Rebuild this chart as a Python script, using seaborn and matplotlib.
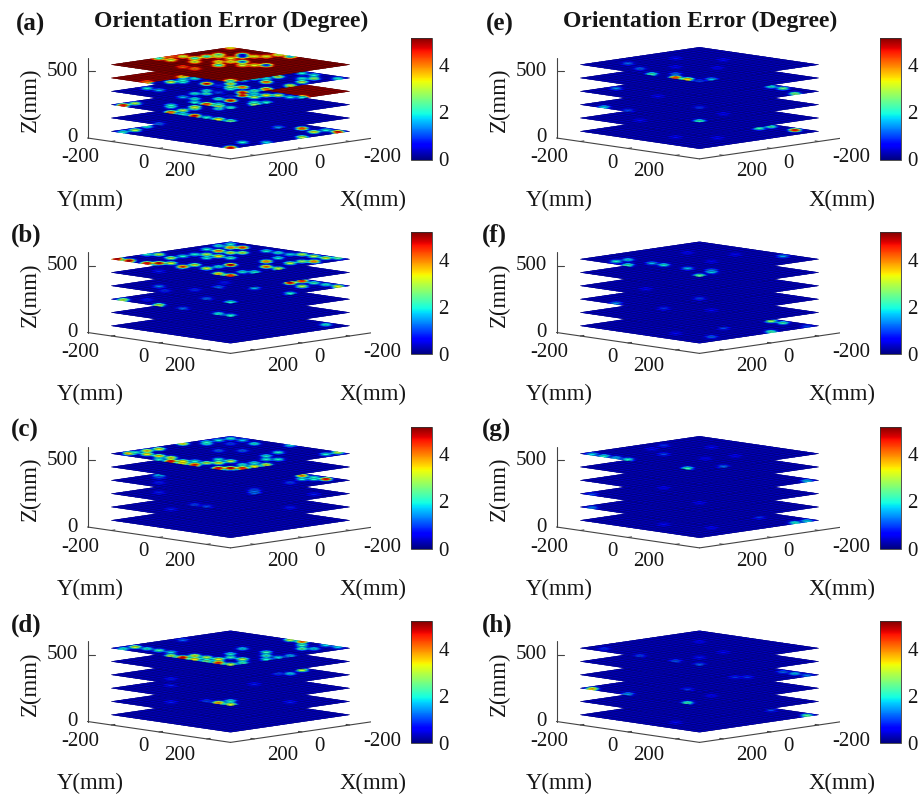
import numpy as np
import matplotlib
matplotlib.use("Agg")
import matplotlib.pyplot as plt
from matplotlib.cm import ScalarMappable
from matplotlib.colors import Normalize
from mpl_toolkits.mplot3d import proj3d
import seaborn as sns

sns.set_theme(style="white", font="Liberation Serif")
plt.rcParams["font.family"] = ["Liberation Serif", "DejaVu Serif"]

# measurement heights (mm), grid edges (mm), base error level per sheet
sheet_z = [50, 150, 250, 350, 450, 550]
grid_edges = [-250 + 25 * k for k in range(21)]
base_err = [0.3, 0.3, 0.3, 0.3, 0.3, 0.3]
top_base_a = 5.17
panel_ids = ["(a)", "(b)", "(c)", "(d)", "(e)", "(f)", "(g)", "(h)"]
z_ticks = ["0", "500"]
xy_ticks = ["-200", "0", "200"]
cbar_ticks = [0, 2, 4]
cbar_max = 5.17

# (sheet, x index, y index, error in degrees)
spots_a = [
 (5,0,0,3.3),(5,3,5,.6),(5,3,7,3.2),(5,2,8,3.2),(5,0,8,3),(5,0,10,1.6),(5,5,3,2),(5,6,4,3),(5,7,3,2),
 (5,9,3,2),(5,9,1,3),(5,10,0,4.2),(5,12,0,2),(5,12,2,3),(5,11,5,3),(5,9,7,3.2),(5,6,6,3.2),(5,8,8,3.2),
 (5,9,11,3),(5,8,12,3.2),(5,7,13,.8),(5,11,9,2),(5,15,9,4),(5,15,7,4.2),(5,7,9,1.2),(5,4,6,.6),(5,19,19,2),
 (4,13,5,3.2),(4,17,7,3.2),(4,19,5,4),(4,13,7,2),(4,15,11,4.8),(4,13,13,3.2),(4,9,15,4.2),(4,5,13,3),
 (4,1,13,2),(4,1,15,2),(4,4,16,2),(4,3,17,2.8),(4,1,19,2),(4,6,18,3),(4,9,19,3.2),(4,10,12,2),
 (4,8,12,2.2),(4,7,13,2),(4,15,7,2),(4,15,13,.9),(4,16,8,2),
 (4,15,15,3.2),(4,14,16,4.2),(4,16,16,2),(4,15,19,2.2),(4,17,19,4.8),(4,13,19,4.2),(4,19,15,2),(4,19,17,1),
 (3,8,16,3.2),(3,9,15,3.4),(3,11,15,3),
 (3,11,13,4.8),(3,15,15,4.8),(3,15,13,2.2),(3,14,8,2),(3,17,9,1.6),(3,17,11,2),(3,15,3,1.6),(3,15,1,2),
 (3,7,19,2),(3,8,18,2),(3,9,13,2),(3,13,9,2.2),(3,12,12,1),
 (3,19,19,2),(3,19,17,3.2),(3,18,16,2),(3,19,15,4.4),(3,19,13,2),(3,15,19,3),(3,14,18,2),(3,13,19,2),
 (2,19,1,4.8),(2,17,1,3),(2,17,9,3),(2,19,9,4.2),
 (2,15,9,2.2),(2,16,6,2),(2,19,11,2),(2,13,11,2),(2,14,8,3.2),(2,15,5,2),
 (2,19,13,4.8),(2,19,15,2),(2,19,17,3.3),(2,19,19,2.4),
 (1,19,7,1.2),(1,11,19,1.4),
 (0,19,1,2),(0,17,1,3),(0,14,0,2),(0,19,19,4.8),(0,15,17,2),(0,13,19,1.8),(0,2,14,4.4),(0,3,17,3.3),
 (0,1,17,2),(0,1,19,4.8),(0,7,19,3)]
# (sheet, x from, x to, y from, y to, error) for solid areas
areas_a = [(5,0,19,0,19,top_base_a),(4,12,19,0,5,5.1),(3,0,6,12,19,5.1)]

spots_b = [
 (5,1,1,2),(5,3,1,2),(5,3,3,4),(5,2,4,4.5),(5,6,2,2),(5,6,4,4),(5,6,6,3.2),(5,5,7,3),(5,2,8,2),(5,2,10,2),
 (5,2,12,1.8),(5,1,13,3),(5,1,15,3),(5,1,17,3.2),(5,0,18,2.4),(5,19,0,5),(5,19,2,5),(5,14,0,2),(5,13,1,3),
 (5,14,4,3),(5,12,4,2),(5,10,4,2),(5,9,5,3),(5,9,7,3.5),(5,9,9,2.2),(5,11,7,2),(5,19,5,4.8),(5,18,6,5),
 (5,17,7,3.2),(5,18,10,4.5),(5,16,10,3.2),(5,17,13,3.2),(5,19,17,3.5),(5,13,13,5),(5,19,19,4.5),(5,15,13,2),
 (5,16,18,2),(5,15,19,2),(5,11,17,4.2),(5,11,19,3),(5,8,14,4),(5,7,17,3),(5,5,17,2.8),(5,4,18,4),(5,5,13,2),
 (4,19,17,1.2),(4,1,3,.8),(4,15,3,.8),(4,16,15,.8),
 (3,3,13,4.8),(3,1,13,4.6),(3,4,16,3),(3,1,15,2.2),(3,1,19,3.3),(3,1,17,2),(3,9,19,2),(3,9,13,1.6),(3,16,4,1.3),
 (3,19,19,2),(3,19,15,1.2),(3,15,9,.9),(3,18,7,.9),
 (2,19,1,3),(2,19,7,3),(2,19,19,2),(2,19,17,2),(2,19,11,1.2),(2,17,3,.8),
 (0,1,17,2)]
areas_b = []

spots_c = [
 (5,18,1,4),(5,17,1,2),(5,15,1,3.5),(5,13,1,3.3),(5,8,0,3.3),(5,5,1,2),(5,6,2,2),(5,3,1,1.9),(5,1,1,2),(5,1,3,1.7),
 (5,2,6,2),(5,4,4,1),(5,0,10,1.8),(5,17,3,3.5),(5,17,5,3.5),(5,17,7,3.4),(5,19,7,2),(5,18,10,3.3),(5,19,9,4.8),
 (5,19,11,3.4),(5,17,11,2),(5,17,13,3),(5,19,13,4.6),(5,14,12,2),(5,16,14,3.3),(5,14,14,3),(5,15,17,2),(5,18,18,5),
 (5,19,17,4.8),(5,17,19,4.6),(5,15,19,3.4),(5,13,19,3.2),(5,13,17,2),(5,10,16,2),(5,9,17,2),(5,8,14,2),(5,5,13,2),
 (5,7,9,1.2),(5,9,7,1.2),(5,2,18,2),(5,0,18,3),
 (3,13,1,2),(3,14,2,1),(3,1,13,4),(3,1,15,2),(3,1,17,4.8),(3,3,15,2),(3,2,16,2),(3,6,16,1),
 (3,14,18,1.5),(3,15,19,1.2),(3,13,17,1),(3,17,5,.8),
 (2,19,13,1),(2,19,15,1),(2,15,3,.8),(2,3,17,.8),
 (1,16,6,.8),(1,5,15,.8)]
areas_c = []

spots_d = [
 (5,17,1,3.2),(5,19,1,2),(5,17,3,2),(5,17,5,2.2),(5,19,9,3),(5,17,7,1.8),(5,19,11,4.9),(5,17,11,3.3),(5,19,13,3.5),
 (5,17,13,3),(5,19,15,2.5),(5,17,15,3.3),(5,19,17,4.5),(5,13,13,2),(5,15,15,2.2),(5,19,19,3),(5,15,17,3),(5,17,19,2.2),
 (5,9,11,1.8),(5,9,15,2.2),(5,11,17,2.2),(5,13,19,2),(5,11,19,1.8),(5,0,10,3),(5,0,12,4.2),(5,2,14,2.2),(5,4,16,2.4),
 (5,9,19,1.6),(5,3,17,1.8),(5,0,16,1.8),(5,0,18,1.8),(5,9,1,1.2),
 (3,1,13,3),(3,4,14,1.8),(3,5,13,1),(3,17,7,.8),(3,13,17,.8),
 (2,17,17,2),(2,19,19,3.2),(2,19,17,3.8),(2,19,15,1),(2,13,3,.8),
 (1,15,5,.8),(1,5,15,.8)]
areas_d = []

spots_e = [
 (5,15,3,1.2),(5,17,7,1.2),(5,19,11,2.2),(5,19,15,4.4),(5,19,17,3.6),(5,17,13,1.3),(5,17,19,1.6),(5,19,19,1),
 (5,8,4,.7),(5,5,9,.7),(5,10,13,.7),(5,13,9,.7),
 (3,15,1,1.4),(3,1,13,2),(3,1,15,2.5),(3,3,19,2.6),(3,19,19,.9),(3,16,9,.7),
 (2,19,3,1.8),(2,19,7,1),(2,19,19,2.1),(2,13,17,.7),
 (1,16,6,.7),
 (0,3,13,2.2),(0,1,13,2.2),(0,1,17,4.8),(0,15,11,.7),(0,12,15,.7)]
areas_e = []

spots_f = [
 (5,18,4,2),(5,16,4,1.8),(5,19,7,2.2),(5,16,8,1.6),(5,16,10,2),(5,16,14,1.6),(5,19,19,2.4),(5,16,18,2),(5,15,17,1.3),(5,1,15,1.5),
 (5,7,5,.7),(5,4,10,.7),(5,10,12,.7),
 (3,17,17,1),(3,16,7,.7),
 (2,19,5,1.4),(2,18,12,.9),(2,15,17,.7),
 (0,1,13,2.8),(0,1,15,2.2),(0,7,19,2.2),(0,15,17,1.2),(0,1,19,1),(0,9,13,1),(0,16,12,.7)]
areas_f = []

spots_g = [
 (5,19,1,1.8),(5,19,3,2),(5,19,5,1.6),(5,19,7,2),(5,8,2,.9),(5,13,7,1),(5,19,17,2.2),(5,15,19,1.2),
 (5,5,7,.7),(5,8,14,.7),(5,12,13,.7),(5,11,3,.7),
 (3,1,19,1.7),(3,17,11,.7),(2,19,1,1),(2,15,15,.7),(1,19,1,1.3),
 (0,3,19,2),(0,1,19,1.8),(0,3,13,.9),(0,15,9,.7),(0,13,15,.7)]
areas_g = []

spots_h = [
 (5,18,2,.9),(5,19,9,1),(5,19,15,1.1),(5,19,19,1.1),(5,15,15,.8),(5,6,6,.7),(5,10,14,.7),
 (3,1,15,1.2),(3,1,17,1.7),(3,1,19,1.3),(3,8,14,.9),(3,7,15,.9),(3,19,17,.9),
 (2,19,1,3.6),(2,19,7,1.5),(2,19,17,2.2),(2,13,15,.7),
 (0,1,19,2.4),(0,1,13,1),(0,16,12,.7)]
areas_h = []

all_spots = [spots_a, spots_b, spots_c, spots_d, spots_e, spots_f, spots_g, spots_h]
all_areas = [areas_a, areas_b, areas_c, areas_d, areas_e, areas_f, areas_g, areas_h]

W, H = 924, 794
ROW = 194.5
COL = 469
letter_x = [16, 11, 11, 11, 486, 482, 482, 482]
letter_y = [24, 235, 430, 625]
cmap = matplotlib.colormaps["jet"]
norm = Normalize(0, cbar_max)
fig = plt.figure(figsize=(W / 100, H / 100), dpi=100, facecolor="white")


def put(x, y, s, **kw):
    fig.text(x / W, 1 - y / H, s, ha=kw.pop("ha", "center"), va=kw.pop("va", "center"),
             color="#161616", **kw)


def fit_axes(ax, ox, oy):
    def P(x, y, z):
        a, b, _ = proj3d.proj_transform(x, y, z, ax.get_proj())
        return ax.transData.transform((a, b))
    side = 400.0
    ax.set_position([0.1, 0.1, side / W, side / H])
    ax.apply_aspect()
    span = P(-300, 300, 0)[0] - P(300, -300, 0)[0]
    side = side * 286.0 / span
    ax.set_position([0.1, 0.1, side / W, side / H])
    ax.apply_aspect()
    p = P(300, -300, 0)
    dx = (87.5 + ox) - p[0]
    dy = (H - (138 + oy)) - p[1]
    ax.set_position([0.1 + dx / W, 0.1 + dy / H, side / W, side / H])


edges = np.array(grid_edges, float)
centers = (edges[:-1] + edges[1:]) / 2
# fine shading mesh: each measured cell is drawn with a smooth elliptical glow
fine = np.linspace(edges[0], edges[-1], 71)
fine_mid = (fine[:-1] + fine[1:]) / 2
MX, MY = np.meshgrid(fine_mid, fine_mid, indexing="ij")
U_PX = 120 * (MY - MX) / 500
V_PX = 17 * (MX + MY) / 500


def field(lay, spots, areas):
    out = np.full(MX.shape, float(base_err[lay]))
    for a in areas:
        if a[0] == lay:
            mask = (MX >= edges[a[1]]) & (MX <= edges[a[2] + 1]) & (MY >= edges[a[3]]) & (MY <= edges[a[4] + 1])
            out[mask] = a[5]
    for s in spots:
        if s[0] == lay:
            du = U_PX - 120 * (centers[s[2]] - centers[s[1]]) / 500
            dv = V_PX - 17 * (centers[s[1]] + centers[s[2]]) / 500
            w = np.exp(-((du / 6.2) ** 2 + (dv / 1.8) ** 2) ** 1.6)
            out = out * (1 - w) + s[3] * w
    return out


for k in range(8):
    col, row = k // 4, k % 4
    ox, oy = col * COL, row * ROW
    ax = fig.add_subplot(projection="3d", computed_zorder=False)
    ax.set_proj_type("ortho")
    ax.set_xlim(-300, 300, view_margin=0)
    ax.set_ylim(-300, 300, view_margin=0)
    ax.set_zlim(0, 600, view_margin=0)
    ax.set_box_aspect((1, 1, 0.4))
    ax.view_init(elev=8.4, azim=45)
    ax.set_axis_off()
    ax.patch.set_alpha(0)
    FX, FY = np.meshgrid(fine, fine, indexing="ij")
    CX, CY = np.meshgrid(edges, edges, indexing="ij")
    for lay, z in enumerate(sheet_z):
        vals = field(lay, all_spots[k], all_areas[k])
        ax.plot_surface(FX, FY, np.full_like(FX, z), facecolors=cmap(norm(vals)), rstride=1, cstride=1,
                        shade=False, linewidth=0.25, zorder=2 + 2 * lay)
        ax.plot_wireframe(CX, CY, np.full_like(CX, z), rstride=1, cstride=1, color="black",
                          linewidth=0.2, alpha=0.55, zorder=3 + 2 * lay)
    axc = "#444444"
    ax.plot([300, 300], [-300, 300], [0, 0], color=axc, lw=0.8, zorder=1)
    ax.plot([-300, 300], [300, 300], [0, 0], color=axc, lw=0.8, zorder=1)
    ax.plot([300, 300], [-300, -300], [0, 600], color=axc, lw=0.8, zorder=1)
    for t in (-200, 0, 200):
        ax.plot([300, 285], [t, t], [0, 0], color=axc, lw=0.8, zorder=1)
        ax.plot([t, t], [300, 285], [0, 0], color=axc, lw=0.8, zorder=1)
    ax.plot([300, 285], [-300, -285], [500, 500], color=axc, lw=0.8, zorder=1)
    fit_axes(ax, ox, oy)

    # colour bar
    cax = fig.add_axes([(411 + ox) / W, 1 - (159.5 + oy) / H, 20.5 / W, 122 / H])
    cb = fig.colorbar(ScalarMappable(norm=norm, cmap=cmap), cax=cax, ticks=cbar_ticks)
    cb.outline.set_linewidth(0.6)
    cb.outline.set_edgecolor("#333333")
    cax.tick_params(length=0, pad=5, labelsize=15, labelcolor="#161616")

    # texts
    put(letter_x[k], letter_y[row], panel_ids[k], ha="left", fontsize=18, fontweight="bold")
    if row == 0:
        put(231 + ox, 21, "Orientation Error (Degree)", fontsize=17, fontweight="bold")
    put(30 + ox, 100 + oy, "Z(mm)", rotation=90, fontsize=16.4)
    put(78 + ox, 138 + oy, z_ticks[0], ha="right", fontsize=15)
    put(78 + ox, 71 + oy, z_ticks[1], ha="right", fontsize=15)
    for (px, py), lab in zip([(80, 158), (143, 163), (180, 172)], xy_ticks):
        put(px + ox, py + oy, lab, fontsize=15)
    for (px, py), lab in zip([(382, 158), (319, 163), (283, 172)], xy_ticks):
        put(px + ox, py + oy, lab, fontsize=15)
    put(90 + ox, 200 + oy, "Y(mm)", fontsize=16.4)
    put(373 + ox, 200 + oy, "X(mm)", fontsize=16.4)

fig.savefig("out.png", dpi=100)
